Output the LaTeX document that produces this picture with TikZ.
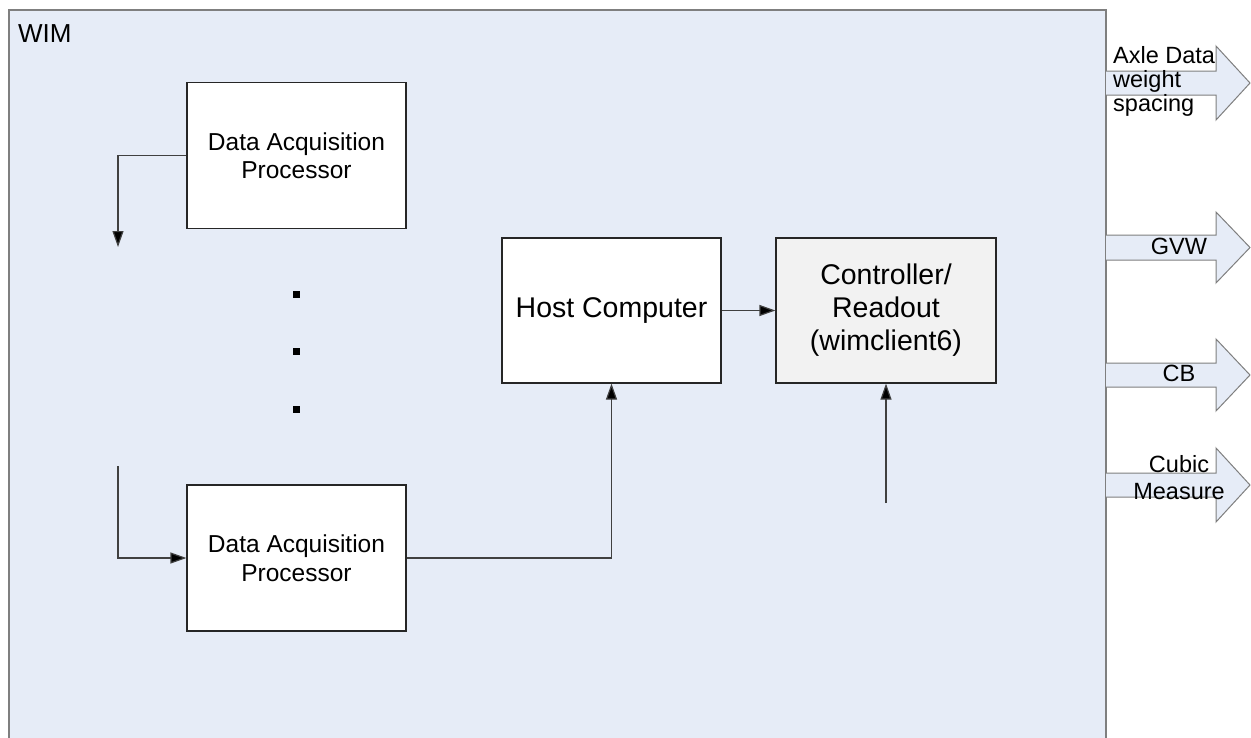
\documentclass[tikz,border=0pt]{standalone}
\usepackage{fontspec}
\setmainfont{Liberation Sans}
\usetikzlibrary{arrows.meta}
\definecolor{panel}{HTML}{E6ECF7}
\definecolor{ctrlfill}{HTML}{F2F2F2}
\definecolor{edge}{HTML}{7F7F7F}
\definecolor{wire}{HTML}{404040}
\tikzset{
  unit/.style={draw=black!85, line width=1.2pt, fill=white, minimum width=219pt,
    minimum height=146pt, inner sep=0pt, align=center},
  smalltext/.style={font=\fontsize{24.5}{28.5}\selectfont},
  bigtext/.style={font=\fontsize{28.5}{33}\selectfont},
  link/.style={draw=wire, line width=1.2pt, -{Triangle[length=16pt,width=11pt,fill=black]}},
  dotmark/.style={fill=black, minimum size=7pt, inner sep=0pt},
  outarrow/.style={draw=edge, line width=1pt, fill=panel},
  outlabel/.style={font=\fontsize{23.5}{24}\selectfont, inner sep=0pt}
}
\begin{document}
\begin{tikzpicture}[x=1pt,y=-1pt]
\useasboundingbox (0,0) rectangle (1251,737);
\begin{scope}
\clip (0,0) rectangle (1251,737);
% enclosing WIM panel
\draw[edge, line width=1.2pt, fill=panel] (9,10) rectangle (1106,760);
\node[anchor=base west, inner sep=0pt, font=\fontsize{26}{30}\selectfont] (wim) at (18,42) {WIM};

% output block arrows on the right edge
\draw[outarrow] (1106,71) -- (1216,71) -- (1216,46) -- (1250,83) -- (1216,120) -- (1216,95) -- (1106,95);
\draw[outarrow] (1106,235) -- (1216,235) -- (1216,212) -- (1250,247.5) -- (1216,283) -- (1216,260) -- (1106,260);
\draw[outarrow] (1106,363) -- (1216,363) -- (1216,339) -- (1250,375) -- (1216,411) -- (1216,387) -- (1106,387);
\draw[outarrow] (1106,473) -- (1216,473) -- (1216,448) -- (1250,485) -- (1216,522) -- (1216,497) -- (1106,497);
\end{scope}

\node[outlabel, anchor=base west] (axle) at (1113,63) {Axle Data};
\node[outlabel, anchor=base west] (weight) at (1113,87) {weight};
\node[outlabel, anchor=base west] (spacing) at (1113,111) {spacing};
\node[outlabel, anchor=base] (gvw) at (1179,254) {GVW};
\node[outlabel, anchor=base] (cb) at (1179,381) {CB};
\node[outlabel, anchor=base] (cubic) at (1179,472) {Cubic};
\node[outlabel, anchor=base] (measure) at (1179,499) {Measure};

% processing units
\node[unit, smalltext] (dap1) at (296.5,155.5) {Data Acquisition\\Processor};
\node[unit, smalltext] (dap2) at (296.5,558) {Data Acquisition\\Processor};
\node[unit, bigtext, minimum height=145pt] (host) at (611.5,310.5) {Host Computer};
\node[unit, bigtext, fill=ctrlfill, minimum width=220pt, minimum height=145pt] (ctrl) at (886,310.5) {Controller/\\Readout\\(wimclient6)};

% ellipsis between the acquisition processors
\node[dotmark] (d1) at (296.5,294) {};
\node[dotmark] (d2) at (296.5,351.5) {};
\node[dotmark] (d3) at (296.5,409.5) {};

% connections
\coordinate (down) at (118,247);
\coordinate (up) at (118,466);
\coordinate (feed) at (886,503);
\draw[link] (dap1.west) -| (down);
\draw[link] (up) |- (dap2.west);
\draw[link] (dap2.east) -| (host.south);
\draw[link] (host.east) -- (ctrl.west);
\draw[link] (feed) -- (ctrl.south);
\end{tikzpicture}
\end{document}
